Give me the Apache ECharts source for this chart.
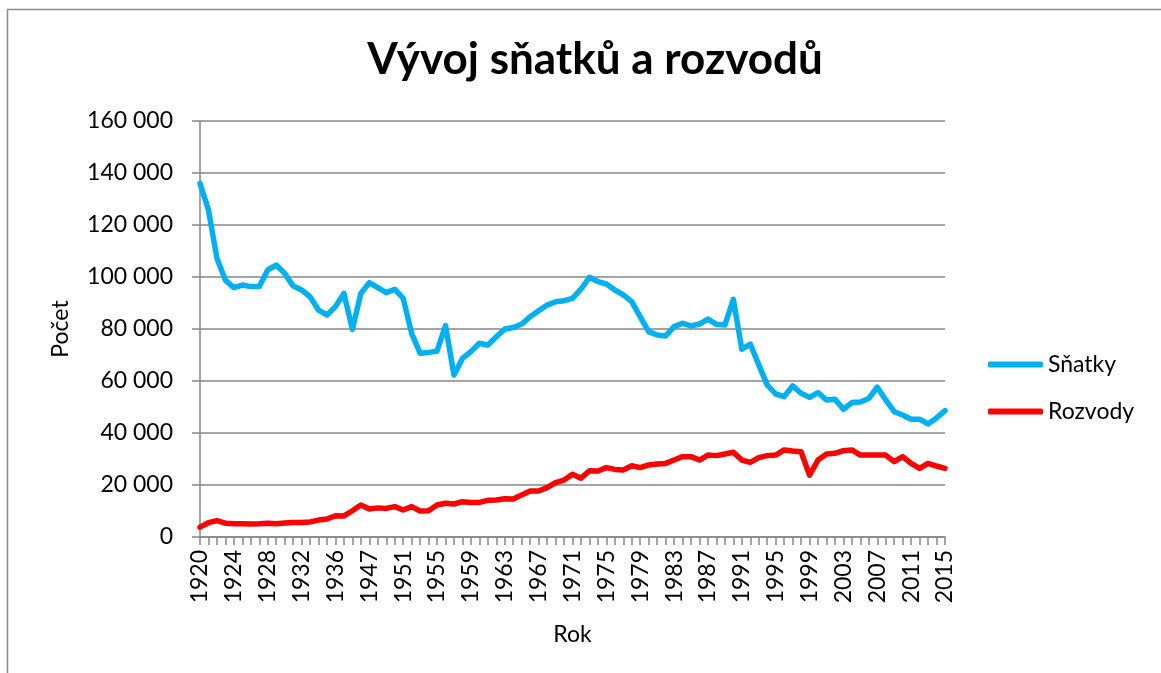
<!DOCTYPE html>
<html>
<head>
<meta charset="utf-8">
<title>Vývoj sňatků a rozvodů</title>
<script src="https://cdn.jsdelivr.net/npm/echarts@6/dist/echarts.min.js"></script>
<style>
  html, body { margin: 0; padding: 0; background: #fff; }
  #chart { width: 1161px; height: 673px; }
</style>
</head>
<body>
<div id="chart"></div>
<script>
// roky (1939-1945 chybí)
const years = [
  '1920', '1921', '1922', '1923', '1924', '1925', '1926', '1927', '1928', '1929',
  '1930', '1931', '1932', '1933', '1934', '1935', '1936', '1937', '1938',
  '1946', '1947', '1948', '1949', '1950', '1951', '1952', '1953', '1954', '1955',
  '1956', '1957', '1958', '1959', '1960', '1961', '1962', '1963', '1964', '1965',
  '1966', '1967', '1968', '1969', '1970', '1971', '1972', '1973', '1974', '1975',
  '1976', '1977', '1978', '1979', '1980', '1981', '1982', '1983', '1984', '1985',
  '1986', '1987', '1988', '1989', '1990', '1991', '1992', '1993', '1994', '1995',
  '1996', '1997', '1998', '1999', '2000', '2001', '2002', '2003', '2004', '2005',
  '2006', '2007', '2008', '2009', '2010', '2011', '2012', '2013', '2014', '2015'
]

// sňatky
const snatky = [
  136000, 125800, 107200, 98800, 95900, 96900, 96300, 96300, 102700, 104600,
  101400, 96500, 95000, 92400, 87300, 85400, 88600, 93700, 79900,
  93700, 97800, 95900, 94000, 95300, 91800, 78300, 70700, 71000, 71500,
  81300, 62300, 68700, 71300, 74500, 73800, 77000, 80000, 80600, 81900,
  84700, 87000, 89200, 90500, 90900, 91800, 95300, 99900, 98200, 97300,
  95000, 93100, 90500, 84700, 79000, 77700, 77300, 80900, 82200, 81200,
  81900, 83800, 81800, 81500, 91400, 72200, 74200, 66200, 58500, 55000,
  54000, 58100, 55300, 53700, 55500, 52700, 53000, 49100, 51700, 51900,
  53300, 57600, 52700, 48200, 46900, 45300, 45300, 43500, 45800, 48600
]

// rozvody
const rozvody = [
  3800, 5500, 6300, 5300, 5100, 5100, 5000, 5100, 5300, 5100,
  5400, 5600, 5600, 5800, 6500, 6900, 8200, 8100, 10100,
  12300, 10800, 11200, 11000, 11700, 10400, 11700, 10000, 10100, 12300,
  13000, 12700, 13600, 13300, 13300, 14100, 14200, 14700, 14600, 16200,
  17700, 17700, 19000, 20900, 21900, 24100, 22600, 25500, 25400, 26700,
  26000, 25800, 27400, 26700, 27700, 28100, 28300, 29600, 30900, 30900,
  29600, 31500, 31300, 31900, 32600, 29600, 28700, 30500, 31300, 31500,
  33500, 33100, 32800, 23800, 29600, 31900, 32200, 33200, 33500, 31500,
  31500, 31500, 31500, 29000, 30900, 28300, 26400, 28300, 27300, 26400
]

const chart = echarts.init(document.getElementById('chart'))

const font = 'Lato, "Noto Sans", sans-serif'
const gridColor = '#868686'

const fmt = v => String(v).replace(/\B(?=(\d{3})+(?!\d))/g, ' ')

const option = {
  animation: false,
  backgroundColor: '#fff',
  textStyle: { fontFamily: font, color: '#000' },
  graphic: [
    {
      type: 'rect',
      shape: { x: 7.5, y: 9.5, width: 1200, height: 700 },
      style: { fill: 'none', stroke: '#8c8c8c', lineWidth: 1.5 },
      silent: true
    }
  ],
  title: {
    text: 'Vývoj sňatků a rozvodů',
    left: 590,
    textAlign: 'center',
    top: 33,
    textStyle: { fontFamily: font, fontSize: 44, fontWeight: 'bold', color: '#000' }
  },
  legend: {
    orient: 'vertical',
    left: 983,
    top: 348,
    itemWidth: 55,
    itemHeight: 6,
    itemGap: 24,
    icon: 'roundRect',
    textStyle: { fontFamily: font, fontSize: 23, color: '#000' },
    data: ['Sňatky', 'Rozvody']
  },
  grid: { left: 200, right: 216, top: 121, bottom: 136 },
  xAxis: {
    type: 'category',
    data: years,
    boundaryGap: false,
    name: 'Rok',
    nameLocation: 'middle',
    nameGap: 86,
    nameTextStyle: { fontFamily: font, fontSize: 23, color: '#000' },
    axisLine: { lineStyle: { color: gridColor, width: 1.5 } },
    axisTick: { show: true, interval: 0, length: 8, lineStyle: { color: gridColor, width: 1.5 } },
    axisLabel: { interval: 3, rotate: 90, margin: 13, fontFamily: font, fontSize: 23, color: '#000' },
    splitLine: { show: false }
  },
  yAxis: {
    type: 'value',
    min: 0,
    max: 160000,
    interval: 20000,
    name: 'Počet',
    nameLocation: 'middle',
    nameRotate: 90,
    nameGap: 128,
    nameTextStyle: { fontFamily: font, fontSize: 23, color: '#000' },
    axisLine: { show: true, lineStyle: { color: gridColor, width: 1.5 } },
    axisTick: { show: true, length: 8, lineStyle: { color: gridColor, width: 1.5 } },
    axisLabel: { margin: 27, fontFamily: font, fontSize: 23, color: '#000', formatter: fmt },
    splitLine: { lineStyle: { color: gridColor, width: 1.5 } }
  },
  series: [
    {
      name: 'Sňatky',
      type: 'line',
      data: snatky,
      symbol: 'none',
      color: '#00b0f0',
      lineStyle: { width: 5.5, color: '#00b0f0', join: 'round', cap: 'round' }
    },
    {
      name: 'Rozvody',
      type: 'line',
      data: rozvody,
      symbol: 'none',
      color: '#ff0000',
      lineStyle: { width: 5.5, color: '#ff0000', join: 'round', cap: 'round' }
    }
  ]
}

chart.setOption(option)

window.addEventListener('resize', () => {
  chart.resize()
})
</script>
</body>
</html>
